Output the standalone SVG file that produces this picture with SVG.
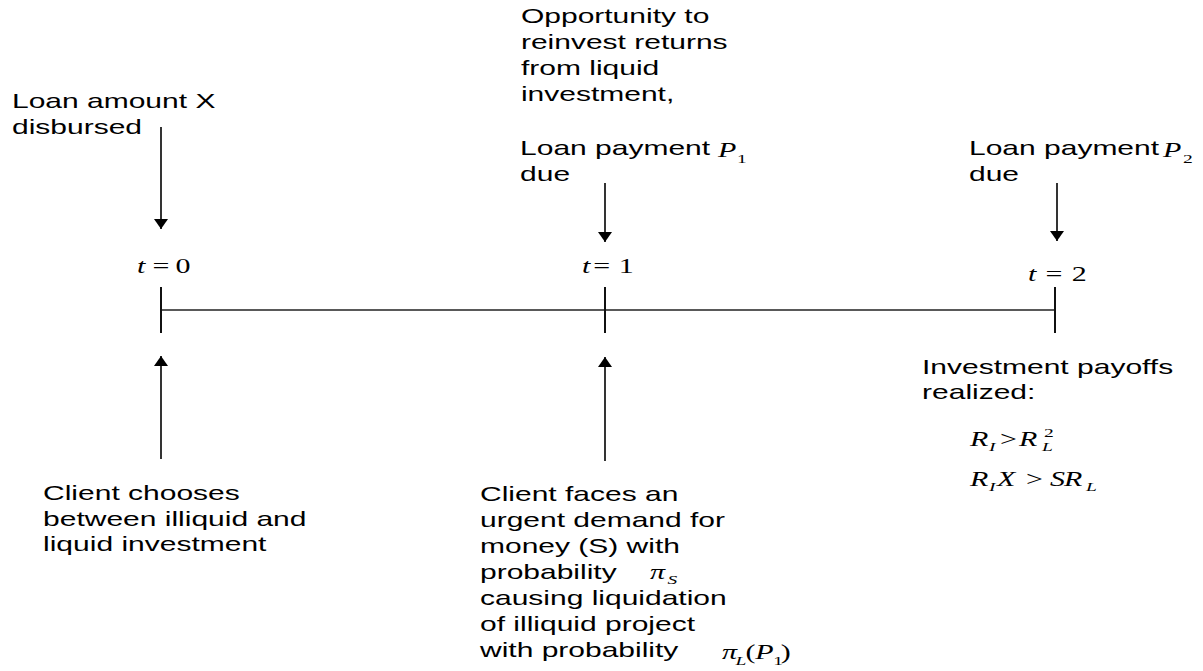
<svg xmlns="http://www.w3.org/2000/svg" width="1203" height="671" viewBox="0 0 1203 671">
<style>
.lbl{font-family:"Liberation Sans",Arial,sans-serif;font-size:20px;fill:#000}
.m{font-family:"Liberation Serif","Times New Roman",serif;font-size:20px;fill:#000}
.it{font-style:italic}
.s{font-size:13px}
.ax{stroke:#000;stroke-width:1.6;fill:none}
.tl{stroke:#222;stroke-width:1.5;fill:none}
.tk{stroke:#111;stroke-width:2;fill:none}
</style>
<defs>
<marker id="ah" viewBox="0 0 10 14" refX="10" refY="7" markerWidth="10" markerHeight="14" markerUnits="userSpaceOnUse" orient="auto">
<path d="M0,0 L10,7 L0,14 z" fill="#000"/>
</marker>
</defs>
<rect width="1203" height="671" fill="#fff"/>
<g id="connectors">
<line class="tl" x1="161" y1="310" x2="1055" y2="310"/>
<line class="tk" x1="161" y1="287" x2="161" y2="333"/>
<line class="tk" x1="605" y1="287" x2="605" y2="333"/>
<line class="tk" x1="1055" y1="287" x2="1055" y2="333"/>
<line class="ax" x1="161" y1="127" x2="161" y2="229" marker-end="url(#ah)"/>
<line class="ax" x1="605" y1="183" x2="605" y2="242" marker-end="url(#ah)"/>
<line class="ax" x1="1057" y1="183" x2="1057" y2="241" marker-end="url(#ah)"/>
<line class="ax" x1="161" y1="459" x2="161" y2="356" marker-end="url(#ah)"/>
<line class="ax" x1="605" y1="461" x2="605" y2="357" marker-end="url(#ah)"/>
</g>
<g id="node-loan-disbursed" transform="scale(1.5 1)">
<text class="lbl" x="8" y="108">Loan amount X</text>
<text class="lbl" x="8" y="134">disbursed</text>
</g>
<g id="node-opportunity" transform="scale(1.5 1)">
<text class="lbl" x="347.3" y="23">Opportunity to</text>
<text class="lbl" x="347.3" y="49">reinvest returns</text>
<text class="lbl" x="347.3" y="75">from liquid</text>
<text class="lbl" x="347.3" y="101">investment,</text>
</g>
<g id="node-payment1" transform="scale(1.5 1)">
<text class="lbl" x="346.7" y="155">Loan payment</text>
<text class="m it" x="478.7" y="157">P</text>
<text class="m s" x="491.3" y="163">1</text>
<text class="lbl" x="346.7" y="181">due</text>
</g>
<g id="node-payment2" transform="scale(1.5 1)">
<text class="lbl" x="646" y="155">Loan payment</text>
<text class="m it" x="775.3" y="157">P</text>
<text class="m s" x="788.7" y="163">2</text>
<text class="lbl" x="646" y="181">due</text>
</g>
<g id="node-t0" transform="scale(1.5 1)">
<text class="m" y="273"><tspan class="it" x="91.3">t</tspan><tspan x="101.7">=</tspan><tspan x="117">0</tspan></text>
</g>
<g id="node-t1" transform="scale(1.5 1)">
<text class="m" y="273"><tspan class="it" x="388">t</tspan><tspan x="395.5">=</tspan><tspan x="412.5">1</tspan></text>
</g>
<g id="node-t2" transform="scale(1.5 1)">
<text class="m" y="281"><tspan class="it" x="685.3">t</tspan><tspan x="697">=</tspan><tspan x="714.5">2</tspan></text>
</g>
<g id="node-client-chooses" transform="scale(1.5 1)">
<text class="lbl" x="28.7" y="500">Client chooses</text>
<text class="lbl" x="28.7" y="526">between illiquid and</text>
<text class="lbl" x="28.7" y="551">liquid investment</text>
</g>
<g id="node-urgent-demand" transform="scale(1.5 1)">
<text class="lbl" x="320" y="501">Client faces an</text>
<text class="lbl" x="320" y="527">urgent demand for</text>
<text class="lbl" x="320" y="553">money (S) with</text>
<text class="lbl" x="320" y="579">probability</text>
<text class="m it" x="433.3" y="579">π</text>
<text class="m it s" x="445" y="584">S</text>
<text class="lbl" x="320" y="605">causing liquidation</text>
<text class="lbl" x="320" y="631">of illiquid project</text>
<text class="lbl" x="320" y="657">with probability</text>
<text class="m it" x="481.3" y="659">π</text>
<text class="m it s" x="490.3" y="665">L</text>
<text class="m" x="497" y="659">(</text>
<text class="m it" x="503.5" y="659">P</text>
<text class="m s" x="515.5" y="665">1</text>
<text class="m" x="520.5" y="659">)</text>
</g>
<g id="node-payoffs" transform="scale(1.5 1)">
<text class="lbl" x="614.7" y="374">Investment payoffs</text>
<text class="lbl" x="614.7" y="399">realized:</text>
<text class="m it" x="646.7" y="446">R</text>
<text class="m it s" x="659.3" y="451">I</text>
<text class="m" x="666.7" y="446">&gt;</text>
<text class="m it" x="679.3" y="446">R</text>
<text class="m it s" x="694.7" y="451">L</text>
<text class="m s" x="696" y="437">2</text>
<text class="m it" x="646.7" y="486">R</text>
<text class="m it s" x="659.3" y="491">I</text>
<text class="m it" x="664.7" y="486">X</text>
<text class="m" x="684" y="486">&gt;</text>
<text class="m it" x="700" y="486">S</text>
<text class="m it" x="709.3" y="486">R</text>
<text class="m it s" x="724" y="491">L</text>
</g>
</svg>
